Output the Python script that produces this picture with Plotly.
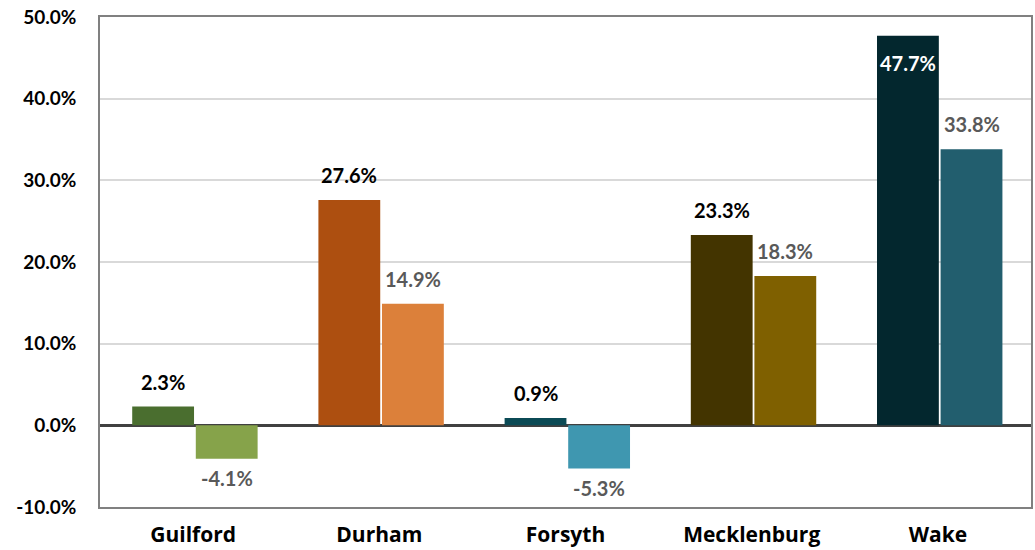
import plotly.graph_objects as go

counties = ["Guilford", "Durham", "Forsyth", "Mecklenburg", "Wake"]
series_a = [2.3, 27.6, 0.9, 23.3, 47.7]
series_b = [-4.1, 14.9, -5.3, 18.3, 33.8]
colors_a = ["#4a6e2f", "#ad4f10", "#0b4a55", "#433400", "#03272e"]
colors_b = ["#86a34a", "#dc803a", "#3f97b0", "#7f6000", "#225e6e"]
y_ticks = [-10, 0, 10, 20, 30, 40, 50]

LABEL_FONT = "Lato"
CAT_FONT = "Open Sans"

# bar geometry in category units
BAR_W = 0.332
off_a = -0.327
off_b = 0.0145
idx = list(range(len(counties)))

fig = go.Figure()
fig.add_trace(go.Bar(
    x=idx, y=series_a, width=BAR_W, offset=off_a,
    marker_color=colors_a, marker_line_width=0, hoverinfo="skip",
))
fig.add_trace(go.Bar(
    x=idx, y=series_b, width=BAR_W, offset=off_b,
    marker_color=colors_b, marker_line_width=0, hoverinfo="skip",
))

top_val = max(series_a)


def add_label(xc, v, color, inside=False):
    if inside:
        shift, col = -27, "white"
    elif v >= 0:
        shift, col = 25, color
    else:
        shift, col = -19, color
    fig.add_annotation(
        x=xc, y=v, text=f"{v:.1f}%", showarrow=False,
        yanchor="middle", xanchor="center", yshift=shift,
        font=dict(family=LABEL_FONT, size=20, color=col, weight="bold"),
    )


for i, v in zip(idx, series_a):
    add_label(i + off_a + BAR_W / 2, v, "black", inside=(v == top_val))
for i, v in zip(idx, series_b):
    add_label(i + off_b + BAR_W / 2, v, "#595959")

fig.update_layout(
    width=1035, height=550,
    margin=dict(l=100, r=2, t=17, b=40),
    paper_bgcolor="white", plot_bgcolor="white",
    barmode="overlay",
    showlegend=False,
)
fig.update_yaxes(
    range=[-10, 50], tickvals=y_ticks,
    ticktext=[f"{v:.1f}%" for v in y_ticks],
    tickfont=dict(family=LABEL_FONT, size=19, color="black", weight="bold"),
    showgrid=True, gridcolor="#d9d9d9", gridwidth=1.5,
    zeroline=True, zerolinecolor="#404040", zerolinewidth=3,
    showline=True, linecolor="#808080", linewidth=1.5, mirror=True,
    ticklabelstandoff=18,
)
fig.update_xaxes(
    range=[-0.5, len(counties) - 0.5],
    tickvals=idx, ticktext=counties,
    tickfont=dict(family=CAT_FONT, size=21, color="black", weight="bold"),
    showgrid=False, zeroline=False,
    showline=True, linecolor="#808080", linewidth=1.5, mirror=True,
    ticklabelstandoff=8,
)

fig.write_html("out.html")
